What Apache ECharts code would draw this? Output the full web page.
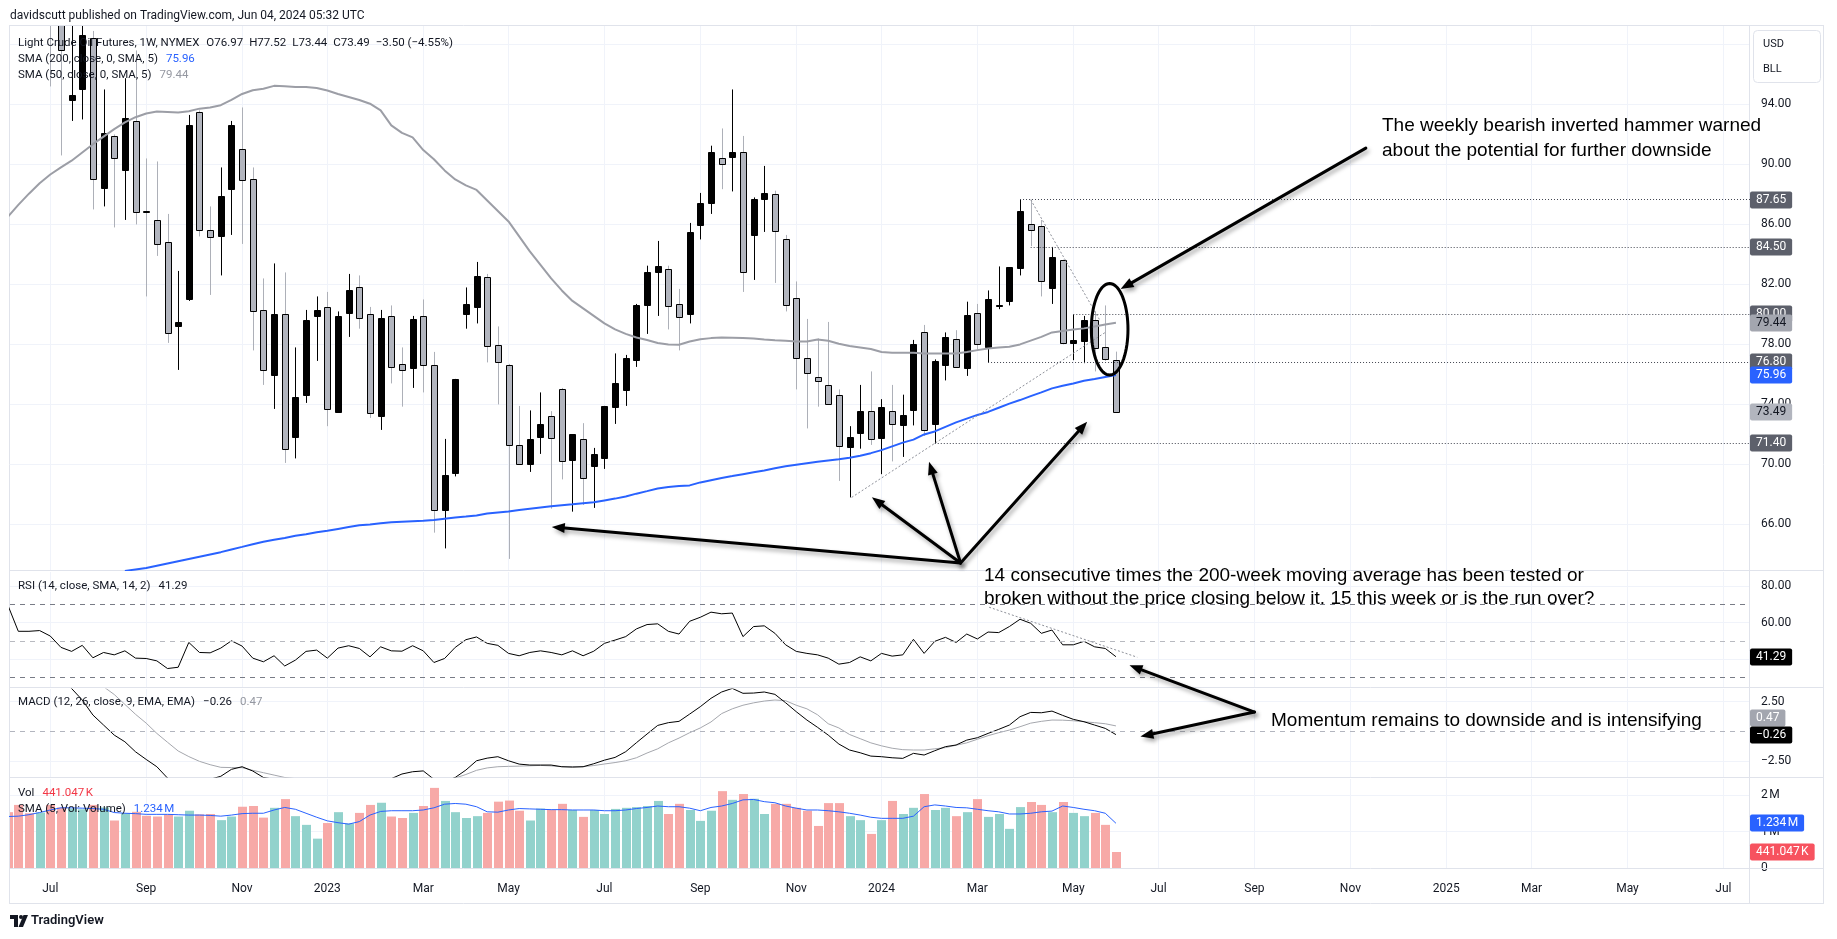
<!DOCTYPE html>
<html lang="en">
<head>
<meta charset="utf-8">
<title>Light Crude Oil Futures, 1W, NYMEX</title>
<script src="https://cdn.jsdelivr.net/npm/echarts@6.0.0/dist/echarts.min.js"></script>
<style>
  html, body { margin: 0; padding: 0; background: #ffffff; }
  #chart { width: 1837px; height: 939px; }
</style>
</head>
<body>
<div id="chart"></div>
<script>
// x = week number, counted from the weekly bar of 4 Jul 2022
const IND_START = -4; // indicator arrays start 4 weeks before the first candle

const open = [108.4, 104.5, 94.3, 95.0, 98.4, 88.4, 91.9, 89.6, 92.9, 86.9,
  86.3, 84.8, 79.2, 81.0, 93.5, 85.6, 85.2, 88.4, 91.0, 89.0,
  80.3, 75.9, 80.0, 71.8, 74.6, 79.9, 80.5, 73.5, 80.05, 81.8,
  80.0, 73.2, 79.9, 76.7, 76.4, 79.9, 76.6, 66.95, 69.4, 80.0,
  80.45, 82.5, 77.95, 76.65, 71.3, 70.05, 71.85, 73.2, 75.0, 70.25,
  71.7, 69.9, 70.45, 73.8, 74.95, 76.95, 80.6, 82.8, 83.05, 80.7,
  80.0, 86.0, 87.4, 90.4, 90.5, 90.8, 85.3, 87.7, 88.0, 85.0,
  81.1, 77.1, 75.8, 75.3, 74.6, 71.15, 72.1, 73.55, 71.75, 73.55,
  72.6, 73.6, 78.85, 72.7, 76.6, 78.35, 76.4, 80.1, 77.8, 80.55,
  80.85, 83.1, 86.05, 85.9, 81.8, 83.65, 78.1, 78.2, 79.6, 77.8,
  76.97];
const high = [111.5, 105.5, 100.0, 100.0, 98.9, 95.0, 92.0, 95.75, 97.6, 90.4,
  90.2, 86.7, 82.9, 93.3, 93.6, 87.2, 89.8, 92.9, 93.8, 89.8,
  82.4, 83.4, 82.8, 77.8, 80.3, 81.2, 81.5, 80.2, 82.7, 82.6,
  80.5, 80.3, 80.6, 77.8, 79.9, 81.0, 77.5, 71.7, 75.7, 81.8,
  83.5, 82.7, 79.2, 76.7, 73.9, 73.6, 74.8, 73.55, 75.1, 72.0,
  72.75, 71.1, 73.9, 77.4, 77.3, 80.7, 83.25, 84.9, 83.25, 81.7,
  86.1, 88.1, 91.25, 92.4, 95.0, 91.9, 87.8, 89.9, 88.25, 85.3,
  82.2, 79.7, 78.4, 79.5, 75.0, 72.55, 75.3, 76.2, 74.35, 75.3,
  74.65, 78.3, 79.3, 77.0, 78.8, 78.95, 80.85, 80.7, 81.6, 83.2,
  83.15, 87.67, 87.65, 86.3, 84.5, 83.65, 80.0, 79.9, 80.2, 80.6,
  77.52];
const low = [95.2, 90.6, 92.9, 93.0, 87.0, 87.2, 85.8, 86.3, 86.0, 81.2,
  83.9, 78.1, 76.3, 80.9, 85.2, 81.3, 82.6, 85.3, 84.7, 77.6,
  75.3, 73.7, 70.1, 70.4, 74.1, 76.9, 72.55, 73.5, 78.5, 79.05,
  73.1, 72.3, 75.4, 73.85, 75.1, 74.8, 65.45, 64.4, 69.2, 79.05,
  79.4, 76.8, 74.0, 63.7, 70.0, 69.5, 70.7, 67.05, 69.0, 66.85,
  67.3, 67.1, 69.7, 72.7, 73.9, 76.5, 78.7, 79.9, 79.0, 77.6,
  79.4, 85.0, 86.7, 88.35, 88.2, 81.5, 82.3, 85.5, 82.1, 80.2,
  75.0, 72.4, 73.85, 74.0, 68.9, 67.8, 71.05, 71.3, 69.35, 70.2,
  70.5, 72.6, 71.9, 71.4, 75.6, 76.45, 75.9, 77.6, 76.8, 80.35,
  80.6, 82.6, 84.55, 81.2, 80.7, 78.0, 76.95, 76.75, 76.2, 76.9,
  73.44];
const close = [104.8, 97.6, 94.65, 98.6, 89.0, 92.1, 90.4, 93.1, 86.85, 86.8,
  84.7, 78.7, 79.5, 92.6, 85.6, 85.1, 87.9, 92.65, 88.9, 80.2,
  76.3, 80.0, 71.0, 74.5, 79.6, 80.3, 73.7, 79.9, 81.6, 79.7,
  73.4, 79.75, 76.5, 76.3, 79.7, 76.65, 66.95, 69.3, 75.7, 80.7,
  82.55, 77.9, 76.8, 71.3, 70.05, 71.7, 72.7, 71.75, 70.2, 72.0,
  69.1, 70.7, 73.9, 75.4, 77.1, 80.6, 82.8, 83.2, 80.6, 79.8,
  85.5, 87.45, 90.8, 90.0, 90.85, 82.8, 87.7, 88.1, 85.5, 80.6,
  77.1, 76.1, 75.5, 74.05, 71.2, 71.8, 73.55, 71.7, 73.85, 72.65,
  73.3, 78.0, 72.3, 76.9, 78.5, 76.45, 79.95, 78.0, 81.0, 80.6,
  83.15, 86.9, 85.65, 82.2, 83.85, 78.1, 78.3, 79.6, 77.7, 76.99,
  73.49];

const sma50 = [86.5, 87.3, 88.05, 88.75,
  89.33, 89.8, 90.25, 90.8, 91.35, 91.85, 92.35, 92.8, 93.15, 93.4,
  93.53, 93.5, 93.46, 93.55, 93.72, 93.8, 93.95, 94.3, 94.7, 94.95,
  95.05, 95.24, 95.22, 95.17, 95.17, 95.1, 94.93, 94.7, 94.5, 94.3,
  94.05, 93.6, 92.6, 92.1, 91.8, 90.96, 90.35, 89.6, 89.0, 88.6,
  88.3, 87.6, 86.9, 86.2, 85.2, 84.2, 83.3, 82.4, 81.6, 80.9,
  80.4, 79.9, 79.4, 79.0, 78.7, 78.46, 78.3, 78.1, 78.0, 77.98,
  78.2, 78.35, 78.42, 78.46, 78.45, 78.43, 78.4, 78.33, 78.27, 78.24,
  78.2, 78.2, 78.33, 78.25, 78.05, 77.9, 77.8, 77.7, 77.5, 77.45,
  77.45, 77.45, 77.4, 77.4, 77.4, 77.4, 77.5, 77.62, 77.73, 77.8,
  77.85, 78.0, 78.25, 78.5, 78.8, 78.9, 79.0, 79.07, 79.2, 79.33,
  79.44];
const sma200 = [null, null, null, null,
  null, null, null, null, null, null, null, 62.9, 63.0, 63.1,
  63.25, 63.4, 63.55, 63.7, 63.85, 64.0, 64.15, 64.33, 64.5, 64.68,
  64.84, 64.97, 65.1, 65.24, 65.35, 65.47, 65.58, 65.7, 65.82, 65.94,
  66.0, 66.08, 66.14, 66.18, 66.21, 66.24, 66.3, 66.38, 66.46, 66.52,
  66.6, 66.72, 66.79, 66.86, 66.96, 67.05, 67.13, 67.21, 67.28, 67.34,
  67.41, 67.48, 67.6, 67.72, 67.86, 68.05, 68.22, 68.4, 68.5, 68.56,
  68.6, 68.8, 68.95, 69.1, 69.22, 69.35, 69.48, 69.6, 69.75, 69.88,
  69.98, 70.08, 70.18, 70.26, 70.34, 70.45, 70.58, 70.75, 70.95, 71.2,
  71.45, 71.65, 72.0, 72.2, 72.5, 72.8, 73.05, 73.3, 73.5, 73.78,
  74.05, 74.29, 74.55, 74.8, 75.07, 75.25, 75.4, 75.58, 75.7, 75.83,
  75.96];
const rsi = [69.8, 55.2, 55.2, 55.6,
  52.6, 46.4, 44.2, 47.5, 40.7, 43.6, 42.3, 44.5, 40.5, 40.3,
  39.0, 34.8, 35.5, 49.1, 43.6, 43.4, 46.0, 50.0, 47.1, 40.5,
  38.5, 41.8, 36.2, 39.4, 44.2, 44.9, 40.5, 46.0, 47.3, 45.8,
  41.2, 46.7, 44.5, 44.3, 47.3, 44.5, 38.1, 40.3, 46.4, 50.6,
  52.1, 48.6, 47.5, 43.1, 41.8, 43.6, 44.5, 43.6, 42.3, 44.5,
  41.8, 44.3, 48.6, 50.4, 52.3, 56.5, 58.9, 59.3, 55.2, 53.7,
  60.7, 62.9, 65.7, 64.8, 65.2, 52.3, 57.8, 58.2, 54.1, 47.8,
  44.2, 43.1, 42.3, 40.5, 37.2, 38.1, 41.2, 39.0, 43.1, 41.6,
  42.3, 50.8, 43.1, 49.7, 51.9, 49.1, 53.7, 51.0, 54.8, 54.5,
  57.8, 61.8, 59.6, 54.1, 55.9, 47.8, 47.8, 49.7, 46.7, 45.8,
  41.29];
const macd = [6.5, 6.2, 5.9, 5.5,
  5.0, 4.4, 3.6, 2.64, 1.38, 0.54, -0.3, -0.86, -1.7, -2.34,
  -2.95, -3.9, -4.5, -4.1, -4.2, -4.0, -3.75, -3.17, -2.95, -3.31,
  -3.85, -4.0, -4.6, -4.7, -4.4, -4.2, -4.5, -4.3, -4.1, -4.1,
  -4.5, -4.2, -3.95, -3.56, -3.37, -3.3, -4.0, -4.2, -3.85, -3.23,
  -2.45, -2.23, -2.11, -2.45, -2.73, -2.81, -2.81, -2.81, -2.95, -2.98,
  -2.95, -2.7, -2.4, -2.17, -1.69, -0.94, -0.21, 0.51, 0.74, 0.85,
  1.46, 2.08, 2.78, 3.31, 3.61, 3.2, 3.22, 3.31, 3.11, 2.41,
  1.66, 0.96, 0.35, -0.3, -1.05, -1.55, -1.78, -2.06, -2.11, -2.2,
  -2.25, -1.83, -1.97, -1.61, -1.27, -1.13, -0.72, -0.52, -0.16, 0.18,
  0.54, 1.24, 1.6, 1.57, 1.71, 1.35, 1.02, 0.82, 0.54, 0.26,
  -0.26];
const signal = [6.3, 6.1, 5.9, 5.7,
  5.5, 5.3, 5.0, 4.6, 4.2, 3.75, 3.1, 2.27, 1.44, 0.7,
  -0.16, -0.9, -1.63, -2.1, -2.5, -2.78, -3.0, -3.02, -3.03, -3.25,
  -3.45, -3.65, -3.85, -3.95, -4.05, -4.1, -4.15, -4.2, -4.2, -4.2,
  -4.25, -4.25, -4.2, -4.0, -3.95, -3.9, -3.95, -4.0, -3.9, -3.6,
  -3.25, -3.05, -2.95, -2.92, -2.9, -2.87, -2.84, -2.88, -2.95, -2.95,
  -2.95, -2.85, -2.72, -2.6, -2.45, -2.2, -1.8, -1.45, -0.95, -0.55,
  -0.1, 0.3, 0.8, 1.5, 1.9, 2.2, 2.4, 2.55, 2.64, 2.58,
  2.2, 1.9, 1.4, 0.65, 0.3, -0.25, -0.6, -0.95, -1.2, -1.4,
  -1.52, -1.55, -1.55, -1.45, -1.35, -1.15, -0.95, -0.65, -0.35, -0.1,
  0.12, 0.4, 0.7, 0.85, 0.96, 0.95, 0.9, 0.82, 0.74, 0.65,
  0.47];
// millions of contracts
const volume = [1.54, 1.74, 1.51, 1.53,
  1.74, 1.67, 1.64, 1.62, 1.74, 1.67, 1.31, 1.51, 1.55, 1.44,
  1.42, 1.48, 1.42, 1.58, 1.48, 1.49, 1.32, 1.42, 1.69, 1.71,
  1.39, 1.66, 1.9, 1.43, 1.19, 0.81, 1.24, 1.54, 1.23, 1.52,
  1.74, 1.8, 1.42, 1.38, 1.52, 1.71, 2.21, 1.85, 1.54, 1.38,
  1.43, 1.52, 1.83, 1.86, 1.58, 1.31, 1.64, 1.6, 1.77, 1.6,
  1.41, 1.6, 1.49, 1.63, 1.66, 1.68, 1.71, 1.85, 1.49, 1.77,
  1.6, 1.3, 1.58, 2.12, 1.88, 2.04, 1.91, 1.49, 1.77, 1.77,
  1.66, 1.58, 1.16, 1.79, 1.79, 1.43, 1.32, 0.94, 1.32, 1.85,
  1.49, 1.66, 2.04, 1.6, 1.66, 1.43, 1.54, 1.9, 1.41, 1.49,
  1.08, 1.68, 1.82, 1.74, 1.54, 1.82, 1.52, 1.43, 1.52, 1.19,
  0.441];
const volUpBefore = [false, false, false, true]; // bars before the first candle
const volSma = [1.42, 1.43, 1.47, 1.53,
  1.6, 1.66, 1.66, 1.65, 1.64, 1.62, 1.53, 1.51, 1.5, 1.48,
  1.48, 1.48, 1.47, 1.46, 1.46, 1.45, 1.43, 1.46, 1.5, 1.51,
  1.51, 1.6, 1.67, 1.62, 1.51, 1.4, 1.3, 1.25, 1.21, 1.28,
  1.46, 1.56, 1.58, 1.58, 1.58, 1.6, 1.66, 1.76, 1.78, 1.76,
  1.69, 1.55, 1.54, 1.6, 1.64, 1.63, 1.62, 1.61, 1.61, 1.6,
  1.6, 1.6, 1.58, 1.58, 1.6, 1.64, 1.67, 1.71, 1.69, 1.69,
  1.65, 1.58, 1.67, 1.71, 1.78, 1.88, 1.89, 1.83, 1.8, 1.71,
  1.65, 1.6, 1.6, 1.58, 1.55, 1.51, 1.46, 1.4, 1.37, 1.37,
  1.37, 1.43, 1.69, 1.74, 1.71, 1.67, 1.66, 1.62, 1.58, 1.55,
  1.49, 1.49, 1.51, 1.55, 1.57, 1.71, 1.67, 1.62, 1.58, 1.51,
  1.234];

// drawings: horizontal rays [first week, price], dotted trend lines
const levels = [[91, 87.65], [92, 84.50], [96, 80.00], [88, 76.80], [83, 71.40]];
const trendLines = [[[92, 87.65], [98.5, 79.6]], [[75.2, 67.8], [99, 78.8]]];
const rsiTrend = [[88.1, 68.4], [102, 41.0]];
const rsiBands = [70, 50, 30];

// time scale labels (first bar of every other month)
const monthTicks = [0, 9, 18, 26, 35, 43, 52, 61, 70, 78, 87, 96, 104, 113, 122, 131, 139, 148, 157];
const monthLabels = ['Jul', 'Sep', 'Nov', '2023', 'Mar', 'May', 'Jul', 'Sep', 'Nov', '2024',
  'Mar', 'May', 'Jul', 'Sep', 'Nov', '2025', 'Mar', 'May', 'Jul'];
const priceTicks = [66, 70, 74, 78, 82, 86, 90, 94];
const priceGrid = [66, 70, 74, 78, 82, 86, 90, 94, 98];
const rsiTicks = [60, 80];
const rsiGrid = [40, 60, 80];
const macdTicks = [-2.5, 2.5];
const volTicks = [0, 1, 2];
const volGrid = [1, 2];

const FONT = 'Roboto, "Noto Sans", sans-serif';
const NOTE_FONT = '"Liberation Sans", Arial, sans-serif';
const TEXT = '#131722';
const GRID_LINE = '#f0f3fa';
const BORDER = '#e0e3eb';
const VOL_UP = '#92d2cc';
const VOL_DOWN = '#f7a9a7';
const X_MIN = -3.78, X_MAX = 159.5;

const chart = echarts.init(document.getElementById('chart'));

const points = arr => arr.map((v, i) => [IND_START + i, v]).filter(p => p[1] != null);
const candleData = open.map((o, k) => [k, o, high[k], low[k], close[k]]);
const volData = volume.map((v, i) => {
  const k = IND_START + i;
  const up = k < 0 ? volUpBefore[i] : close[k] >= open[k];
  return [k, v, up ? 1 : 0];
});

function renderCandle(params, api) {
  const k = api.value(0);
  const o = api.value(1), h = api.value(2), l = api.value(3), c = api.value(4);
  const up = c >= o;
  const hi = api.coord([k, h]);
  const lo = api.coord([k, l]);
  const top = api.coord([k, Math.max(o, c)]);
  const bot = api.coord([k, Math.min(o, c)]);
  const cx = Math.round(hi[0]) + 0.5;
  const y0 = Math.round(top[1]) + 0.5;
  const bh = Math.max(1, Math.round(bot[1] - top[1]));
  return {
    type: 'group',
    children: [
      { type: 'line', shape: { x1: cx, y1: hi[1], x2: cx, y2: lo[1] },
        style: { stroke: up ? '#000000' : '#adb0b8', lineWidth: 1 } },
      { type: 'rect', shape: { x: cx - 3, y: y0, width: 6, height: bh },
        style: { fill: up ? '#000000' : '#b2b5be', stroke: '#000000', lineWidth: 1 } }
    ]
  };
}

function renderVolume(params, api) {
  const k = api.value(0);
  const topPt = api.coord([k, api.value(1)]);
  const basePt = api.coord([k, 0]);
  const x = Math.round(topPt[0]) - 4;
  return { type: 'rect', shape: { x, y: topPt[1], width: 9, height: basePt[1] - topPt[1] },
    style: { fill: api.value(2) ? VOL_UP : VOL_DOWN } };
}

const panes = [
  { top: 26, height: 544, min: 62.96, max: 99.23, labels: priceTicks, grid: priceGrid, fmt: v => v.toFixed(2) },
  { top: 572, height: 115, min: 24.68, max: 87.7, labels: rsiTicks, grid: rsiGrid, fmt: v => v.toFixed(2) },
  { top: 689, height: 88, min: -3.81, max: 3.56, labels: macdTicks, grid: macdTicks,
    fmt: v => (v < 0 ? '\u2212' : '') + Math.abs(v).toFixed(2) },
  { top: 779, height: 89, min: 0, max: 2.455, labels: volTicks, grid: volGrid,
    fmt: v => v === 0 ? '0' : v + '\u202fM' }
];

const dotted = (color, dash) => ({ color, width: 1, type: dash });

const option = {
  animation: false,
  backgroundColor: '#ffffff',
  grid: panes.map(p => ({ left: 10, right: 87, top: p.top, height: p.height, outerBoundsMode: 'none' })),
  xAxis: panes.map((p, i) => ({
    type: 'value', gridIndex: i, min: X_MIN, max: X_MAX,
    axisLine: { show: false },
    axisTick: { show: false, customValues: monthTicks },
    axisLabel: i === 3 ? {
      show: true, customValues: monthTicks, margin: 15,
      formatter: v => monthLabels[monthTicks.indexOf(v)],
      color: TEXT, fontSize: 12, fontFamily: FONT
    } : { show: false },
    splitLine: { show: true, lineStyle: { color: GRID_LINE, width: 1 } }
  })),
  yAxis: panes.map((p, i) => ({
    type: 'value', gridIndex: i, position: 'right', min: p.min, max: p.max,
    axisLine: { show: false },
    axisTick: { show: false, customValues: p.grid },
    axisLabel: { customValues: p.labels, formatter: p.fmt, margin: 11,
      color: TEXT, fontSize: 12, fontFamily: FONT },
    splitLine: { show: true, lineStyle: { color: GRID_LINE, width: 1 } }
  })),
  series: [
    { type: 'custom', name: 'CL', xAxisIndex: 0, yAxisIndex: 0, clip: true, z: 2,
      renderItem: renderCandle, encode: { x: 0, y: [1, 2, 3, 4] }, data: candleData, silent: true },
    { type: 'line', name: 'SMA 200', xAxisIndex: 0, yAxisIndex: 0, data: points(sma200),
      symbol: 'none', clip: true, silent: true, z: 3, lineStyle: { color: '#2962ff', width: 2 } },
    { type: 'line', name: 'SMA 50', xAxisIndex: 0, yAxisIndex: 0, data: points(sma50),
      symbol: 'none', clip: true, silent: true, z: 3, lineStyle: { color: '#9c9ea6', width: 2 },
      markLine: {
        silent: true, symbol: ['none', 'none'], animation: false, label: { show: false },
        lineStyle: dotted('#434651', [1, 2]),
        data: [
          ...levels.map(([k, p]) => [{ coord: [k, p], lineStyle: dotted('#434651', [1, 2]) }, { coord: [X_MAX, p] }]),
          ...trendLines.map(([a, b]) => [{ coord: a, lineStyle: dotted('#8d9099', [2, 2]) }, { coord: b }])
        ]
      } },
    { type: 'line', name: 'RSI', xAxisIndex: 1, yAxisIndex: 1, data: points(rsi),
      symbol: 'none', clip: true, silent: true, lineStyle: { color: '#000000', width: 1 },
      markLine: {
        silent: true, symbol: ['none', 'none'], animation: false, label: { show: false },
        lineStyle: dotted('#787b86', [5, 5]),
        data: [
          ...rsiBands.map(b => ({ yAxis: b, lineStyle: dotted(b === 50 ? '#b8bac0' : '#787b86', [5, 5]) })),
          [{ coord: rsiTrend[0], lineStyle: dotted('#8d9099', [2, 2]) }, { coord: rsiTrend[1] }]
        ]
      } },
    { type: 'line', name: 'Signal', xAxisIndex: 2, yAxisIndex: 2, data: points(signal),
      symbol: 'none', clip: true, silent: true, lineStyle: { color: '#a5a7ad', width: 1 } },
    { type: 'line', name: 'MACD', xAxisIndex: 2, yAxisIndex: 2, data: points(macd),
      symbol: 'none', clip: true, silent: true, lineStyle: { color: '#000000', width: 1 },
      markLine: {
        silent: true, symbol: ['none', 'none'], animation: false, label: { show: false },
        data: [{ yAxis: 0, lineStyle: dotted('#b2b5be', [5, 5]) }]
      } },
    { type: 'custom', name: 'Vol', xAxisIndex: 3, yAxisIndex: 3, clip: true, silent: true,
      renderItem: renderVolume, encode: { x: 0, y: 1 }, data: volData },
    { type: 'line', name: 'Vol SMA', xAxisIndex: 3, yAxisIndex: 3, data: points(volSma),
      symbol: 'none', clip: true, silent: true, z: 3, lineStyle: { color: '#2962ff', width: 1 } }
  ]
};

chart.setOption(option);

// ---- overlays: frame, legends, price-scale tags, drawings ----
const px = (grid, pt) => chart.convertToPixel({ gridIndex: grid }, pt);
const g = [];

const hLine = (x1, x2, y) => ({ type: 'line', silent: true, z: 1,
  shape: { x1, y1: y + 0.5, x2, y2: y + 0.5 }, style: { stroke: BORDER, lineWidth: 1 } });
const vLine = (x, y1, y2) => ({ type: 'line', silent: true, z: 1,
  shape: { x1: x + 0.5, y1, x2: x + 0.5, y2 }, style: { stroke: BORDER, lineWidth: 1 } });
[25, 570, 687, 777, 868, 903].forEach(y => g.push(hLine(10, 1824, y)));
g.push(vLine(9, 25, 904), vLine(1823, 25, 904), vLine(1749, 25, 904));

const LEGEND_FONT = '11.5px ' + FONT;
function richText(x, y, parts) {
  const rich = {};
  const text = parts.map((p, i) => {
    rich['p' + i] = { fill: p[1], font: LEGEND_FONT, padding: [0, 0, 0, i ? (p[2] || 6) : 0] };
    return '{p' + i + '|' + p[0] + '}';
  }).join('');
  return { type: 'text', x, y, z: 100, silent: true,
    style: { text, rich, font: LEGEND_FONT, verticalAlign: 'middle' } };
}

const last = close.length - 1;
const chg = close[last] - close[last - 1];
const fmtSigned = v => (v < 0 ? '\u2212' : '+') + Math.abs(v).toFixed(2);
g.push({ type: 'text', x: 10, y: 16, z: 100, silent: true,
  style: { text: 'davidscutt published on TradingView.com, Jun 04, 2024 05:32 UTC',
    font: '12px ' + FONT, fill: TEXT, verticalAlign: 'middle' } });
g.push(richText(18, 43, [
  ['Light Crude Oil Futures, 1W, NYMEX', TEXT],
  ['O' + open[last].toFixed(2), TEXT, 7], ['H' + high[last].toFixed(2), TEXT],
  ['L' + low[last].toFixed(2), TEXT], ['C' + close[last].toFixed(2), TEXT],
  [fmtSigned(chg) + ' (' + fmtSigned(chg / close[last - 1] * 100) + '%)', TEXT]
]));
g.push(richText(18, 59, [['SMA (200, close, 0, SMA, 5)', TEXT], [sma200[sma200.length - 1].toFixed(2), '#2962ff', 8]]));
g.push(richText(18, 75, [['SMA (50, close, 0, SMA, 5)', TEXT], [sma50[sma50.length - 1].toFixed(2), '#9598a1', 8]]));
g.push(richText(18, 586, [['RSI (14, close, SMA, 14, 2)', TEXT], [rsi[rsi.length - 1].toFixed(2), TEXT, 8]]));
g.push(richText(18, 702, [['MACD (12, 26, close, 9, EMA, EMA)', TEXT],
  [fmtSigned(macd[macd.length - 1]), TEXT, 8], [signal[signal.length - 1].toFixed(2), '#9598a1', 8]]));
g.push(richText(18, 793, [['Vol', TEXT], ['441.047\u202fK', '#f23645', 8]]));
g.push(richText(18, 809, [['SMA (5, Vol: Volume)', TEXT], [volSma[volSma.length - 1].toFixed(3) + '\u202fM', '#2962ff', 8]]));

// currency / unit box
g.push({ type: 'rect', silent: true, z: 100, shape: { x: 1753.5, y: 30.5, width: 67, height: 52, r: 4 },
  style: { fill: '#ffffff', stroke: BORDER, lineWidth: 1 } });
g.push({ type: 'text', x: 1763, y: 44, z: 101, silent: true,
  style: { text: 'USD', font: '11px ' + FONT, fill: TEXT, verticalAlign: 'middle' } });
g.push({ type: 'text', x: 1763, y: 69, z: 101, silent: true,
  style: { text: 'BLL', font: '11px ' + FONT, fill: TEXT, verticalAlign: 'middle' } });

// price-scale tags; tags of the same indicator pane are pushed apart like the scale does
const TAG_H = 17;
const tags = [
  [0, levels[0][1], '#5d606b', '#ffffff'],
  [0, levels[1][1], '#5d606b', '#ffffff'],
  [0, levels[2][1], '#5d606b', '#ffffff'],
  [0, sma50[sma50.length - 1], '#a3a6af', TEXT],
  [0, levels[3][1], '#5d606b', '#ffffff'],
  [0, sma200[sma200.length - 1], '#2962ff', '#ffffff'],
  [0, close[last], '#b2b5be', TEXT],
  [0, levels[4][1], '#5d606b', '#ffffff'],
  [1, rsi[rsi.length - 1], '#000000', '#ffffff'],
  [2, signal[signal.length - 1], '#a3a6af', '#ffffff', null, 'push'],
  [2, macd[macd.length - 1], '#000000', '#ffffff'],
  [3, volSma[volSma.length - 1], '#2962ff', '#ffffff', volSma[volSma.length - 1].toFixed(3) + '\u202fM'],
  [3, volume[volume.length - 1], '#f7525f', '#ffffff', '441.047\u202fK']
];
const tagY = tags.map(t => Math.round(chart.convertToPixel({ yAxisIndex: t[0] }, t[1])));
tags.forEach((t, i) => {
  if (t[5] === 'push' && tags[i + 1] && tags[i + 1][0] === t[0]) {
    tagY[i] = Math.min(tagY[i], tagY[i + 1] - TAG_H);
  }
});
tags.forEach(([axis, v, bg, fg, label], i) => {
  const text = label || (v < 0 ? '\u2212' + Math.abs(v).toFixed(2) : v.toFixed(2));
  g.push({ type: 'text', x: 1750, y: tagY[i], z: 110 + i, silent: true,
    style: { text, font: '12px ' + FONT, fill: fg, backgroundColor: bg,
      padding: [3, 6, 2, 6], borderRadius: 2, verticalAlign: 'middle', align: 'left' } });
});

// hand drawn annotations
const SHADOW = { shadowBlur: 4, shadowOffsetX: 2, shadowOffsetY: 3, shadowColor: 'rgba(0,0,0,0.35)' };
function arrow(a, b) {
  const ang = Math.atan2(b[1] - a[1], b[0] - a[0]);
  const L = 13, W = 5;
  const bx = b[0] - L * Math.cos(ang), by = b[1] - L * Math.sin(ang);
  g.push({ type: 'line', silent: true, z: 120, shape: { x1: a[0], y1: a[1], x2: bx, y2: by },
    style: Object.assign({ stroke: '#000000', lineWidth: 3, lineCap: 'round' }, SHADOW) });
  g.push({ type: 'polygon', silent: true, z: 120,
    shape: { points: [b, [bx + W * Math.sin(ang), by - W * Math.cos(ang)], [bx - W * Math.sin(ang), by + W * Math.cos(ang)]] },
    style: Object.assign({ fill: '#000000' }, SHADOW) });
}
const hammerArrow = [[0, 123.45, 91.09], [0, 100.44, 81.69]];
const testOrigin = [0, 85.42, 63.43];
const testTargets = [[0, 47.06, 65.83], [0, 77.1, 67.81], [0, 82.46, 70.18], [0, 97.3, 72.85]];
const momentumOrigin = [2, 113.0, 1.63];
const momentumTargets = [[1, 101.27, 36.58], [2, 102.3, -0.42]];
const hammerEllipse = { center: [99.41, 79.01], rx: 1.72, ry: 3.05 };
const toPx = p => px(p[0], [p[1], p[2]]);

arrow(toPx(hammerArrow[0]), toPx(hammerArrow[1]));
testTargets.forEach(t => arrow(toPx(testOrigin), toPx(t)));
momentumTargets.forEach(t => arrow(toPx(momentumOrigin), toPx(t)));

const ec = px(0, hammerEllipse.center);
const erx = px(0, [hammerEllipse.center[0] + hammerEllipse.rx, hammerEllipse.center[1]])[0] - ec[0];
const ery = ec[1] - px(0, [hammerEllipse.center[0], hammerEllipse.center[1] + hammerEllipse.ry])[1];
const ell = [];
for (let i = 0; i < 72; i++) {
  const t = i / 72 * Math.PI * 2;
  ell.push([ec[0] + erx * Math.cos(t), ec[1] + ery * Math.sin(t)]);
}
g.push({ type: 'polygon', silent: true, z: 120, shape: { points: ell },
  style: { fill: 'transparent', stroke: '#000000', lineWidth: 3 } });

const notes = [
  [1382, 126, 'The weekly bearish inverted hammer warned'],
  [1382, 151, 'about the potential for further downside'],
  [984, 576, '14 consecutive times the 200-week moving average has been tested or'],
  [984, 599, 'broken without the price closing below it. 15 this week or is the run over?'],
  [1271, 721, 'Momentum remains to downside and is intensifying']
];
notes.forEach(([x, y, text]) => g.push({ type: 'text', x, y, z: 130, silent: true,
  style: { text, font: '19px ' + NOTE_FONT, fill: '#000000', verticalAlign: 'middle' } }));

// TradingView mark
g.push({ type: 'rect', silent: true, z: 100, shape: { x: 10, y: 915, width: 8, height: 4 }, style: { fill: TEXT } });
g.push({ type: 'rect', silent: true, z: 100, shape: { x: 14, y: 915, width: 4, height: 12 }, style: { fill: TEXT } });
g.push({ type: 'circle', silent: true, z: 100, shape: { cx: 21, cy: 917, r: 2 }, style: { fill: TEXT } });
g.push({ type: 'polygon', silent: true, z: 100, shape: { points: [[23.5, 915], [28, 915], [23, 927], [18.5, 927]] }, style: { fill: TEXT } });
g.push({ type: 'text', x: 31, y: 921, z: 100, silent: true,
  style: { text: 'TradingView', font: '600 13px ' + FONT, fill: TEXT, verticalAlign: 'middle' } });

chart.setOption({ graphic: { elements: g } });
</script>
</body>
</html>
